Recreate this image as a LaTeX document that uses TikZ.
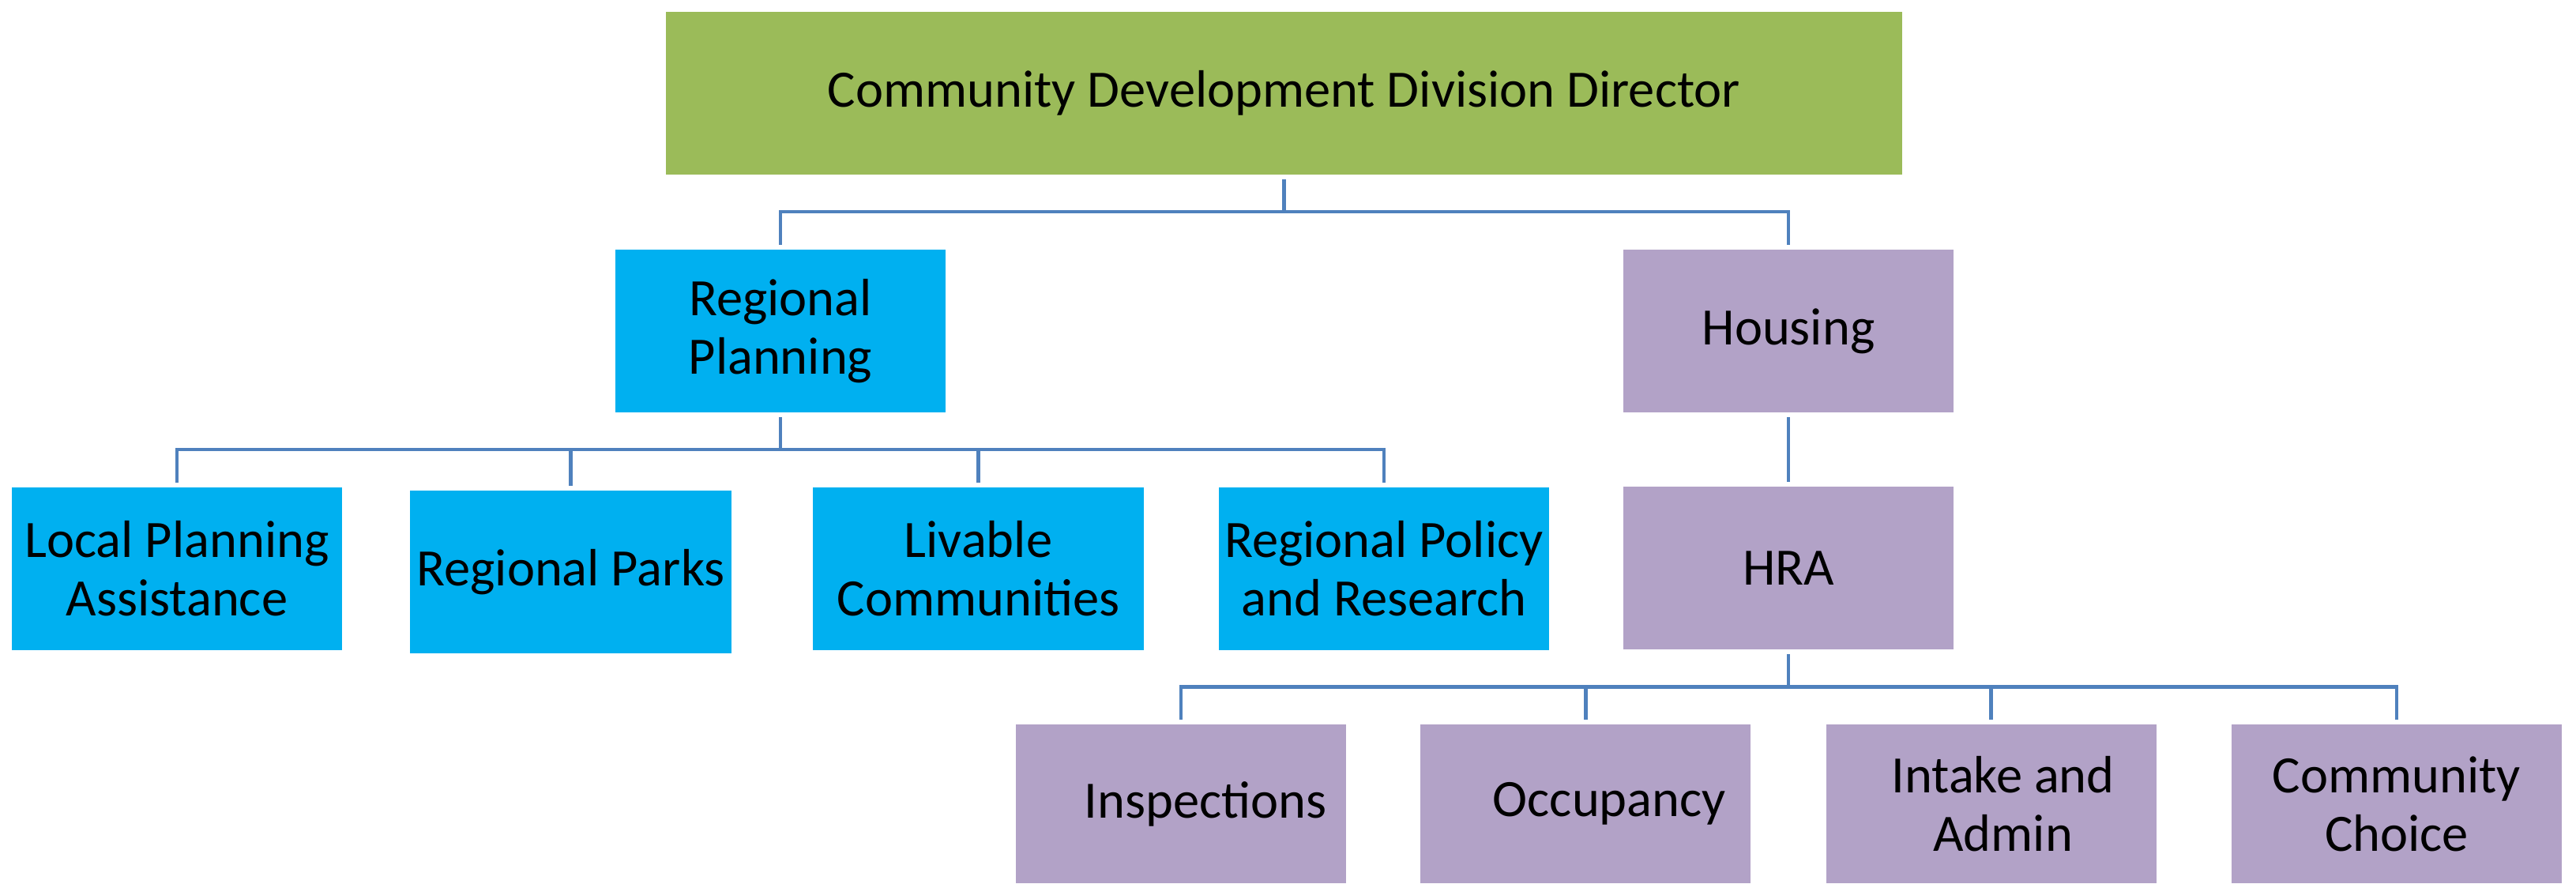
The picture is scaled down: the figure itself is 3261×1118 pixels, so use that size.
\documentclass[tikz,border=0pt]{standalone}
\usepackage{fontspec}
\setmainfont{Carlito}
\usepackage{tikz}
\usetikzlibrary{positioning}
\usepackage{xcolor}
\definecolor{orggreen}{RGB}{155,187,89}
\definecolor{orgblue}{RGB}{0,176,240}
\definecolor{orgpurple}{RGB}{178,162,199}
\definecolor{orgline}{RGB}{79,129,189}
\tikzstyle{unit} = [rectangle, minimum width=4.18cm, minimum height=2.06cm, inner sep=0pt, outer sep=0pt, text centered, align=center, font=\fontsize{18.9}{21}\selectfont]
\tikzstyle{planning} = [unit, fill=orgblue]
\tikzstyle{housing} = [unit, fill=orgpurple]
\tikzstyle{caption} = [align=center, inner sep=0pt, font=\fontsize{18.9}{21}\selectfont]
\tikzstyle{link} = [line width=1.3pt, color=orgline, shorten <=0.06cm, shorten >=0.06cm]

\begin{document}
\begin{tikzpicture}[x=0.01cm, y=-0.01cm]
\useasboundingbox (0,0) rectangle (3261,1118);

% Director
\node (dir) [unit, fill=orggreen, minimum width=15.65cm] at (1625.5,118) {Community Development Division Director};

% Second level
\node (rp) [planning] at (988,419) {Regional\\Planning};
\node (hous) [housing] at (2264,419) {Housing};

% Regional planning units
\node (lpa) [planning] at (224,720) {Local Planning\\Assistance};
\node (parks) [planning, minimum width=4.07cm] at (722.5,724) {Regional Parks};
\node (liv) [planning] at (1238.5,720) {Livable\\Communities};
\node (pol) [planning, right=0.95cm of liv] {Regional Policy\\and Research};
\node (hra) [housing, below=0.94cm of hous] {HRA};

% HRA units
\node (insp) [housing, minimum height=2.01cm] at (1495,1017.5) {};
\node at ([xshift=0.31cm]insp.center) [caption] {Inspections};
\node (occ) [housing, minimum height=2.01cm, right=0.94cm of insp] {};
\node at ([xshift=0.3cm]occ.center) [caption] {Occupancy};
\node (intake) [housing, minimum height=2.01cm, right=0.95cm of occ] {};
\node at ([xshift=0.15cm]intake.center) [caption] {Intake and\\Admin};
\node (choice) [housing, minimum height=2.01cm, right=0.95cm of intake] {Community\\Choice};

% Connectors
\draw[link] (dir.south) -- ++(0,47) coordinate (b1) -| (rp.north);
\draw[link, shorten <=0pt] (b1) -| (hous.north);

\draw[link] (rp.south) -- ++(0,47) coordinate (b2) -| (lpa.north);
\draw[link, shorten <=0pt] (b2) -| (parks.north);
\draw[link, shorten <=0pt] (b2) -| (liv.north);
\draw[link, shorten <=0pt] (b2) -| (pol.north);

\draw[link] (hous) -- (hra);

\draw[link] (hra.south) -- ++(0,47) coordinate (b3) -| (insp.north);
\draw[link, shorten <=0pt] (b3) -| (occ.north);
\draw[link, shorten <=0pt] (b3) -| (intake.north);
\draw[link, shorten <=0pt] (b3) -| (choice.north);
\end{tikzpicture}
\end{document}
